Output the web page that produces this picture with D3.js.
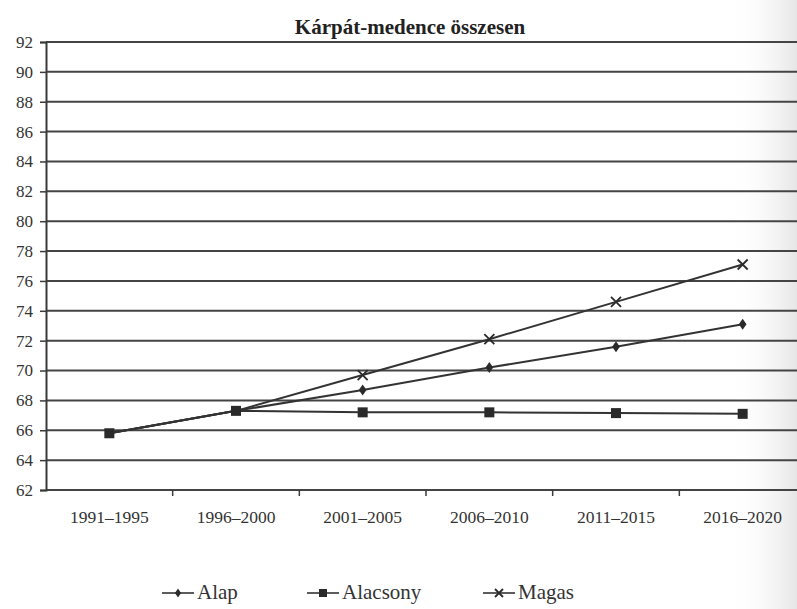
<!DOCTYPE html>
<html>
<head>
<meta charset="utf-8">
<script src="https://cdn.jsdelivr.net/npm/d3@7"></script>
<style>
  body { margin: 0; background: #fff; }
  svg { display: block; }
  text { font-family: "Liberation Serif", "DejaVu Serif", serif; }
</style>
</head>
<body>
<svg id="chart"></svg>
<script>
// data
var periods = ["1991–1995", "1996–2000", "2001–2005", "2006–2010", "2011–2015", "2016–2020"];
var alap     = [65.8, 67.3, 68.7, 70.2, 71.6, 73.1];
var alacsony = [65.8, 67.3, 67.2, 67.2, 67.15, 67.1];
var magas    = [65.8, 67.3, 69.7, 72.1, 74.6, 77.1];
var yTicks = d3.range(62, 93, 2);

var W = 797, H = 609;
var margin = {top: 42, right: -9, bottom: 119, left: 46};
var width = W - margin.left - margin.right,
    height = H - margin.top - margin.bottom;
var serif = "'Liberation Serif', 'DejaVu Serif', serif";

var svg = d3.select("#chart")
  .attr("width", W)
  .attr("height", H);

// faint shading of the page fold on the right
var defs = svg.append("defs");
var grad = defs.append("linearGradient").attr("id", "fold")
  .attr("x1", "0").attr("x2", "1").attr("y1", "0").attr("y2", "0");
grad.append("stop").attr("offset", "0").attr("stop-color", "#fff").attr("stop-opacity", 0);
grad.append("stop").attr("offset", "1").attr("stop-color", "#e6e6e6").attr("stop-opacity", 1);
svg.append("rect").attr("x", 730).attr("y", 0).attr("width", 67).attr("height", H)
  .attr("fill", "url(#fold)");

var g = svg.append("g")
  .attr("transform", "translate(" + margin.left + "," + margin.top + ")");

var x = d3.scaleBand()
  .domain(periods)
  .range([0, width]);

var y = d3.scaleLinear()
  .domain([62, 92])
  .range([height, 0]);

// horizontal grid lines
g.append("g")
  .selectAll("line")
  .data(yTicks)
  .enter()
  .append("line")
    .attr("x1", 0)
    .attr("x2", width)
    .attr("y1", function(d) { return y(d); })
    .attr("y2", function(d) { return y(d); })
    .style("stroke", "#444")
    .style("stroke-width", 2);

// Y axis
var yAxis = g.append("g")
  .call(d3.axisLeft(y).tickValues(yTicks).tickSize(6).tickPadding(7));
yAxis.select(".domain").style("stroke", "#3a3a3a").style("stroke-width", 2);
yAxis.selectAll(".tick line").style("stroke", "#3a3a3a").style("stroke-width", 1.5);
yAxis.selectAll("text")
  .style("font-family", serif)
  .style("font-size", "17px")
  .style("fill", "#333");

// X axis
var xAxis = g.append("g")
  .attr("transform", "translate(0," + height + ")")
  .call(d3.axisBottom(x).tickSize(0).tickPadding(21));
xAxis.select(".domain").remove();
xAxis.selectAll("text")
  .style("font-family", serif)
  .style("font-size", "17.5px")
  .style("fill", "#333");

// tick marks between the categories
g.append("g")
  .selectAll("line")
  .data(periods.slice(1))
  .enter()
  .append("line")
    .attr("x1", function(d) { return x(d); })
    .attr("x2", function(d) { return x(d); })
    .attr("y1", height)
    .attr("y2", height + 6)
    .style("stroke", "#3a3a3a")
    .style("stroke-width", 1.5);

var line = d3.line()
  .x(function(d, i) { return x(periods[i]) + x.bandwidth() / 2; })
  .y(function(d) { return y(d); });

var series = [
  {name: "Magas", values: magas, mark: "x"},
  {name: "Alap", values: alap, mark: "diamond"},
  {name: "Alacsony", values: alacsony, mark: "square"}
];

function drawMark(sel, kind, cx, cy, s) {
  if (kind === "square") {
    sel.append("rect")
      .attr("x", cx - s / 2).attr("y", cy - s / 2)
      .attr("width", s).attr("height", s)
      .style("fill", "#2a2a2a");
  } else if (kind === "diamond") {
    var r = s * 0.55;
    sel.append("path")
      .attr("d", "M" + cx + "," + (cy - r) + "L" + (cx + r * 0.7) + "," + cy +
                 "L" + cx + "," + (cy + r) + "L" + (cx - r * 0.7) + "," + cy + "Z")
      .style("fill", "#2a2a2a");
  } else {
    var h = s / 2;
    sel.append("path")
      .attr("d", "M" + (cx - h) + "," + (cy - h) + "L" + (cx + h) + "," + (cy + h) +
                 "M" + (cx - h) + "," + (cy + h) + "L" + (cx + h) + "," + (cy - h))
      .style("stroke", "#2a2a2a")
      .style("stroke-width", 1.8)
      .style("fill", "none");
  }
}

series.forEach(function(s) {
  g.append("path")
    .datum(s.values)
    .attr("d", line)
    .style("fill", "none")
    .style("stroke", "#333")
    .style("stroke-width", 2);
});

// markers; the shared first two points only show the square
series.forEach(function(s) {
  var mg = g.append("g");
  s.values.forEach(function(v, i) {
    if (i < 2 && s.mark !== "square") return;
    drawMark(mg, s.mark, x(periods[i]) + x.bandwidth() / 2, y(v), 10);
  });
});

// title
svg.append("text")
  .attr("x", 410)
  .attr("y", 34)
  .style("text-anchor", "middle")
  .style("font-family", serif)
  .style("font-weight", "bold")
  .style("font-size", "21px")
  .style("fill", "#222")
  .text("Kárpát-medence összesen");

// legend
var legend = [
  {name: "Alap", mark: "diamond", x: 162},
  {name: "Alacsony", mark: "square", x: 307},
  {name: "Magas", mark: "x", x: 483}
];
legend.forEach(function(l) {
  var lg = svg.append("g");
  lg.append("line")
    .attr("x1", l.x).attr("x2", l.x + 32)
    .attr("y1", 593).attr("y2", 593)
    .style("stroke", "#333").style("stroke-width", 1.6);
  drawMark(lg, l.mark, l.x + 16, 593, 8);
  lg.append("text")
    .attr("x", l.x + 35)
    .attr("y", 599)
    .style("font-family", serif)
    .style("font-size", "21px")
    .style("fill", "#333")
    .text(l.name);
});
</script>
</body>
</html>
